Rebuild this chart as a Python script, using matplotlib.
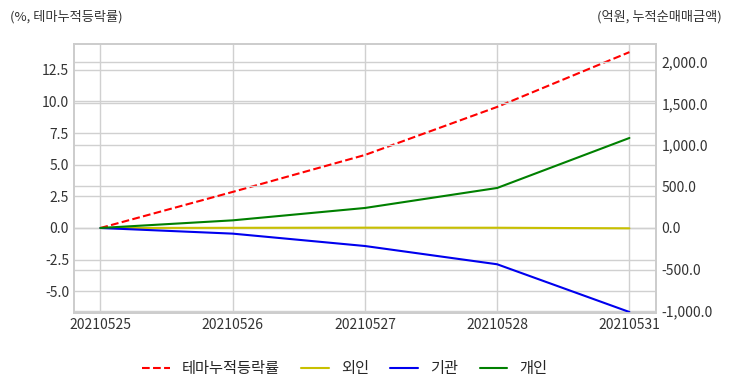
import numpy as np
import matplotlib
matplotlib.use("Agg")
import matplotlib.pyplot as plt
from matplotlib.ticker import FuncFormatter

# data
dates = ['20210525', '20210526', '20210527', '20210528', '20210531']
theme_rate = [0.0, 2.85, 5.77, 9.57, 13.9]          # % (left axis)
foreign = [0.0, 2.0, 4.0, 3.0, -4.0]               # 억원 (right axis)
institution = [0.0, -68.0, -217.0, -437.0, -1012.0]
individual = [0.0, 92.0, 241.0, 482.0, 1084.0]

plt.style.use('seaborn-v0_8-whitegrid')
plt.rcParams['font.family'] = ['Noto Sans CJK KR', 'DejaVu Sans']
plt.rcParams['axes.unicode_minus'] = False

fig, ax = plt.subplots(figsize=(7.32, 3.92), dpi=100)
fig.subplots_adjust(left=0.101, right=0.896, top=0.888, bottom=0.2015)
ax2 = ax.twinx()

x = np.arange(len(dates))
l1, = ax.plot(x, theme_rate, 'r--', lw=1.5, label='테마누적등락률')
l2, = ax2.plot(x, foreign, color='#c8c000', lw=1.5, label='외인')
l3, = ax2.plot(x, institution, color='#0000ee', lw=1.5, label='기관')
l4, = ax2.plot(x, individual, color='#008000', lw=1.5, label='개인')

ax.set_xticks(x)
ax.set_xticklabels(dates)
ax.set_xlim(-0.2, 4.2)
ax.set_ylim(-6.72, 14.55)
ax2.set_ylim(-1024, 2217)
ax.set_yticks([-5.0, -2.5, 0.0, 2.5, 5.0, 7.5, 10.0, 12.5])
ax2.set_yticks([-1000, -500, 0, 500, 1000, 1500, 2000])
ax.yaxis.set_major_formatter(FuncFormatter(lambda v, p: '{:.1f}'.format(v)))
ax2.yaxis.set_major_formatter(FuncFormatter(lambda v, p: '{:,.1f}'.format(v)))

for a in (ax, ax2):
    a.grid(True, color='#d0d0d0', lw=1)
    a.tick_params(labelsize=10, colors='#333333', length=0)
    for s in a.spines.values():
        s.set_color('#cccccc')
        s.set_linewidth(1.2)
ax2.grid(True, axis='y', color='#d0d0d0', lw=1)
ax2.tick_params(axis='y', pad=4)

fig.text(0.014, 0.958, '(%, 테마누적등락률)', fontsize=9.5, color='#333333', va='center', ha='left')
fig.text(0.986, 0.958, '(억원, 누적순매매금액)', fontsize=9.5, color='#333333', va='center', ha='right')

fig.legend(handles=[l1, l2, l3, l4], loc='center', bbox_to_anchor=(0.471, 0.059),
           ncol=4, frameon=False, fontsize=11, handlelength=1.8, columnspacing=1.4)

fig.savefig('out.png', dpi=100)
